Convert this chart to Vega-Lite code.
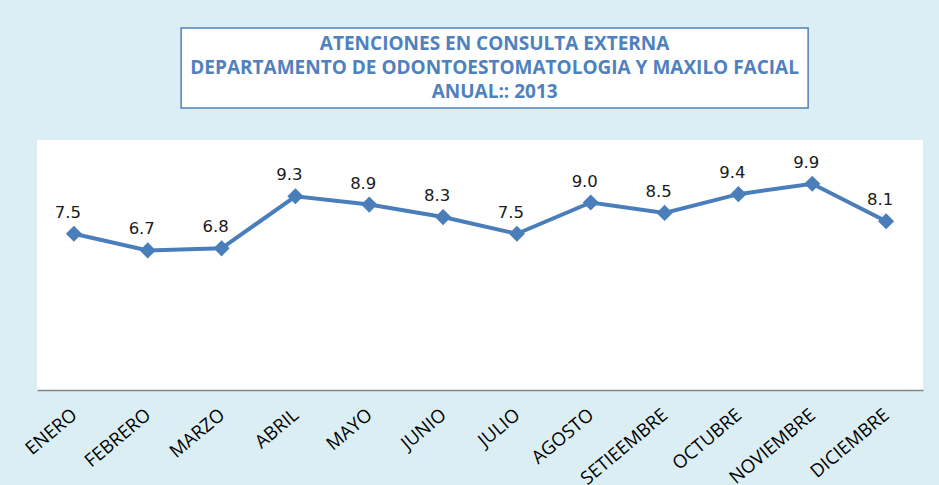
{
  "$schema": "https://vega.github.io/schema/vega-lite/v6.json",
  "background": "#dbeef4",
  "padding": {"left": 21, "top": 27, "right": 0, "bottom": 0},
  "config": {"view": {"stroke": null}},
  "center": true,
  "spacing": 31,
  "vconcat": [
    {
      "width": 627,
      "height": 80,
      "view": {"fill": "white", "stroke": "#4f81bd", "strokeWidth": 1.5},
      "data": {"values": [
        {"n": 1, "texto": "ATENCIONES EN CONSULTA EXTERNA"},
        {"n": 2, "texto": "DEPARTAMENTO DE ODONTOESTOMATOLOGIA Y MAXILO FACIAL"},
        {"n": 3, "texto": "ANUAL:: 2013"}
      ]},
      "mark": {"type": "text", "font": "Open Sans", "fontWeight": "bold", "fontSize": 19, "color": "#4f81bd"},
      "encoding": {
        "y": {"field": "n", "type": "ordinal", "axis": null, "scale": {"type": "point", "padding": 0.7}},
        "text": {"field": "texto"}
      }
    },
    {
      "width": 886,
      "height": 250,
      "view": {"fill": "white", "stroke": null},
      "data": {"values": [
        {"mes": "ENERO", "valor": 7.5},
        {"mes": "FEBRERO", "valor": 6.7},
        {"mes": "MARZO", "valor": 6.8},
        {"mes": "ABRIL", "valor": 9.3},
        {"mes": "MAYO", "valor": 8.9},
        {"mes": "JUNIO", "valor": 8.3},
        {"mes": "JULIO", "valor": 7.5},
        {"mes": "AGOSTO", "valor": 9.0},
        {"mes": "SETIEEMBRE", "valor": 8.5},
        {"mes": "OCTUBRE", "valor": 9.4},
        {"mes": "NOVIEMBRE", "valor": 9.9},
        {"mes": "DICIEMBRE", "valor": 8.1}
      ]},
      "encoding": {
        "x": {
          "field": "mes", "type": "nominal", "sort": null, "title": null,
          "axis": {
            "labelAngle": -40, "labelAlign": "right", "labelBaseline": "middle",
            "labelFont": "Open Sans", "labelFontSize": 18.5, "labelColor": "#000000",
            "labelPadding": 22, "labelOverlap": false, "ticks": false, "grid": false,
            "domainColor": "#868686", "domainWidth": 1.5
          }
        },
        "y": {
          "field": "valor", "type": "quantitative", "scale": {"domain": [0, 12]},
          "axis": {"orient": "right", "labels": false, "ticks": false, "domain": false, "grid": false, "title": null, "minExtent": 30, "maxExtent": 30}
        }
      },
      "layer": [
        {"mark": {"type": "line", "color": "#4a7ebb", "strokeWidth": 4}},
        {"mark": {"type": "point", "shape": "diamond", "filled": true, "size": 260, "color": "#4a7ebb", "opacity": 1}},
        {
          "mark": {"type": "text", "dx": -6, "dy": -21, "font": "DejaVu Sans", "fontSize": 16.5, "color": "#1a1a1a"},
          "encoding": {"text": {"field": "valor", "type": "quantitative", "format": ".1f"}}
        }
      ]
    }
  ]
}
